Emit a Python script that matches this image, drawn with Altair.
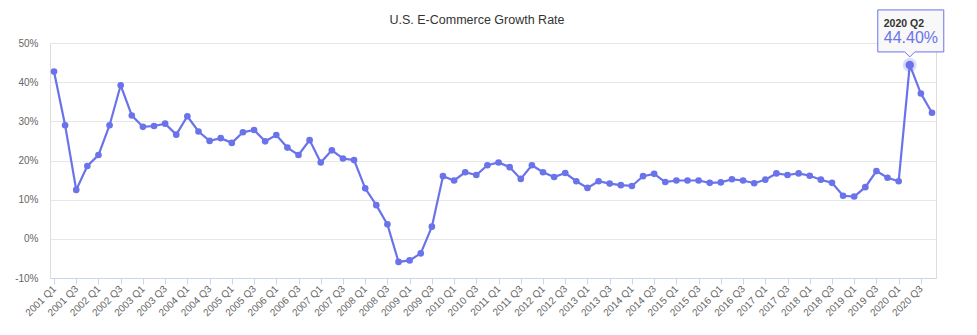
import altair as alt
import pandas as pd

years = list(range(2001, 2021))
quarters = [f"{y} Q{q}" for y in years for q in range(1, 5)]

growth = [
    42.7, 29.0, 12.5, 18.6,
    21.4, 29.0, 39.2, 31.5,
    28.6, 28.8, 29.4, 26.6,
    31.3, 27.4, 25.0, 25.7,
    24.5, 27.2, 27.8, 24.9,
    26.5, 23.3, 21.4, 25.2,
    19.5, 22.6, 20.5, 20.1,
    12.9, 8.6, 3.7, -5.9,
    -5.5, -3.7, 3.1, 16.0,
    14.9, 17.0, 16.3, 18.8,
    19.5, 18.3, 15.3, 18.8,
    17.0, 15.8, 16.8, 14.7,
    13.0, 14.7, 14.1, 13.7,
    13.5, 16.0, 16.6, 14.5,
    14.9, 14.9, 14.9, 14.3,
    14.4, 15.2, 14.9, 14.2,
    15.1, 16.7, 16.3, 16.7,
    16.1, 15.1, 14.3, 11.0,
    10.8, 13.2, 17.3, 15.6,
    14.7, 44.4, 37.1, 32.2,
]

tick_labels = [q for q in quarters if q.endswith("Q1") or q.endswith("Q3")]
y_ticks = [-10, 0, 10, 20, 30, 40, 50]
highlight = "2020 Q2"

df = pd.DataFrame({"quarter": quarters, "growth": growth})

COLOR = "#6a73e9"
FONT = "Liberation Sans"

x_enc = alt.X(
    "quarter:O",
    sort=quarters,
    scale=alt.Scale(type="point", padding=0.36),
    axis=alt.Axis(
        values=tick_labels,
        labelAngle=-45,
        labelAlign="right",
        labelBaseline="middle",
        labelFontSize=10,
        labelColor="#666666",
        labelFont=FONT,
        labelPadding=3,
        domainColor="#ccd6eb",
        tickColor="#ccd6eb",
        tickSize=6,
        grid=False,
        title=None,
        labelOverlap=False,
    ),
)
y_enc = alt.Y(
    "growth:Q",
    scale=alt.Scale(domain=[-10, 50], nice=False, zero=False),
    axis=alt.Axis(
        values=y_ticks,
        labelExpr="datum.value + '%'",
        labelFontSize=10,
        labelColor="#666666",
        labelFont=FONT,
        labelPadding=12,
        domain=False,
        ticks=False,
        gridColor="#e6e6e6",
        gridWidth=1,
        title=None,
    ),
)

base = alt.Chart(df).encode(x=x_enc, y=y_enc)

line = base.mark_line(color=COLOR, strokeWidth=2.2)
points = base.mark_point(filled=True, color=COLOR, opacity=1, size=44, shape="circle")

hl = base.transform_filter(alt.datum.quarter == highlight).transform_calculate(
    label="format(datum.growth, '.2f') + '%'"
)
halo = hl.mark_point(filled=True, color=COLOR, opacity=0.25, size=196, shape="circle")
hl_pt = hl.mark_point(filled=True, color=COLOR, opacity=1, size=72, shape="circle")
box = hl.mark_point(
    shape="M-32,-55H34V-13H5L0,-8L-5,-13H-32Z",
    size=4,
    filled=True,
    fill="#f7f7f7",
    fillOpacity=0.9,
    stroke=COLOR,
    strokeWidth=1,
    opacity=1,
)
t1 = hl.mark_text(
    align="left", baseline="alphabetic", dx=-26, dy=-38,
    font=FONT, fontSize=10.5, fontWeight="bold", color="#333333",
).encode(text="quarter:N")
t2 = hl.mark_text(
    align="left", baseline="alphabetic", dx=-26, dy=-22,
    font=FONT, fontSize=16, color=COLOR,
).encode(text="label:N")

chart = (
    alt.layer(line, points, halo, hl_pt, box, t1, t2)
    .properties(
        width=886,
        height=235,
        autosize=alt.AutoSizeParams(type="none"),
        padding={"left": 50, "top": 43, "right": 41, "bottom": 57},
        title=alt.TitleParams(
            "U.S. E-Commerce Growth Rate",
            font=FONT,
            fontSize=12.5,
            fontWeight="normal",
            color="#333333",
            anchor="middle",
            frame="group",
            baseline="alphabetic",
            dx=-16,
            dy=46,
            offset=17,
        ),
    )
    .configure_view(stroke=None)
    .configure(background="white")
)

chart.save("out.html", embed_options={"renderer": "svg", "actions": False})
